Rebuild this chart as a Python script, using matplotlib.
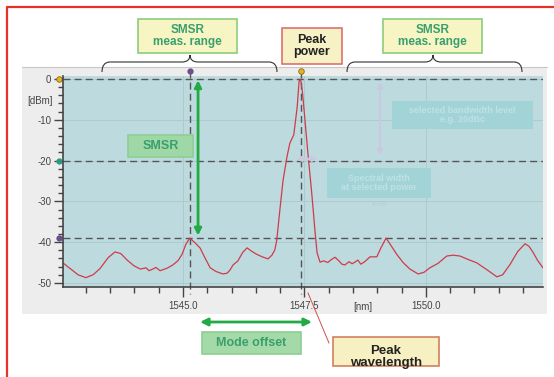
import matplotlib
matplotlib.use('Agg')
import matplotlib.pyplot as plt
import numpy as np
from matplotlib.patches import Rectangle, PathPatch, FancyArrowPatch
from matplotlib.path import Path
from matplotlib.ticker import MultipleLocator

plt.rcParams['font.family'] = ['Liberation Sans', 'DejaVu Sans']

# spectrum (wavelength nm, power dBm)
wavelength = [1542.53, 1542.68, 1542.84, 1543.00, 1543.15, 1543.29, 1543.46, 1543.60,
              1543.72, 1543.85, 1543.99, 1544.12, 1544.24, 1544.30, 1544.38, 1544.44,
              1544.53, 1544.67, 1544.79, 1544.90, 1544.98, 1545.06, 1545.14, 1545.25,
              1545.35, 1545.45, 1545.56, 1545.68, 1545.82, 1545.91, 1545.97, 1546.03,
              1546.13, 1546.23, 1546.32, 1546.42, 1546.52, 1546.63, 1546.75, 1546.83,
              1546.89, 1546.93, 1547.00, 1547.06, 1547.14, 1547.20, 1547.28, 1547.35,
              1547.39, 1547.42, 1547.46, 1547.51, 1547.57, 1547.65, 1547.72, 1547.76,
              1547.82, 1547.90, 1547.98, 1548.05, 1548.13, 1548.21, 1548.27, 1548.33,
              1548.42, 1548.48, 1548.54, 1548.60, 1548.66, 1548.74, 1548.85, 1548.99,
              1549.07, 1549.18, 1549.28, 1549.40, 1549.53, 1549.67, 1549.84, 1549.96,
              1550.08, 1550.25, 1550.43, 1550.56, 1550.70, 1550.86, 1551.05, 1551.26,
              1551.46, 1551.58, 1551.73, 1551.89, 1552.04, 1552.12, 1552.20, 1552.30,
              1552.41]
power = [-45.1, -46.5, -48.0, -48.7, -48.0, -46.5, -43.8, -42.4,
         -42.8, -44.4, -45.8, -46.6, -46.3, -47.0, -46.6, -46.2,
         -47.0, -46.4, -45.6, -44.5, -43.0, -40.5, -39.0, -40.2,
         -41.4, -43.8, -46.3, -47.2, -47.8, -47.6, -46.8, -45.6,
         -44.6, -42.5, -41.4, -42.3, -43.0, -43.6, -44.1, -43.2,
         -41.9, -39.5, -31.4, -24.8, -19.1, -15.7, -13.7, -6.9,
         -0.5, 0.0, -3.4, -10.0, -18.1, -28.0, -37.7, -42.6,
         -44.9, -44.6, -45.0, -44.3, -43.7, -44.6, -45.4, -45.6,
         -44.8, -45.3, -44.9, -44.4, -45.4, -44.8, -43.6, -43.6,
         -41.5, -39.0, -40.8, -43.0, -45.0, -46.6, -47.8, -47.4,
         -46.3, -45.2, -43.4, -43.2, -43.4, -44.2, -45.1, -46.8,
         -48.5, -48.0, -45.5, -42.3, -40.4, -41.0, -42.4, -44.5,
         -46.3]

peak_wl, peak_db = 1547.42, 0.0
side_wl, side_db = 1545.14, -38.9
level_db = -20.0
xticks = [1545.0, 1547.5, 1550.0]
yticks = [0, -10, -20, -30, -40, -50]

W, H = 554, 377
fig = plt.figure(figsize=(W / 100, H / 100), dpi=100, facecolor='white')

# background layer (pixel coordinates)
bg = fig.add_axes([0, 0, 1, 1], zorder=0)
bg.set_xlim(0, W)
bg.set_ylim(H, 0)
bg.axis('off')
bg.add_patch(Rectangle((22, 67), 525, 247, facecolor='#eeedee', edgecolor='none'))
bg.plot([22, 547], [67, 67], color='#c8c8c8', lw=0.8)
bg.plot([7, 7, W], [H, 7, 7], color='#e8302a', lw=1.6)

# spectrum axes
ax = fig.add_axes([63 / W, 1 - 287 / H, 480 / W, 211 / H], zorder=1)
ax.set_facecolor('#bddbde')
ax.set_xlim(1542.53, 1552.41)
ax.set_ylim(-51.0, 0.74)
for s in ['top', 'right']:
    ax.spines[s].set_visible(False)
for s in ['left', 'bottom']:
    ax.spines[s].set_color('#444444')
    ax.spines[s].set_linewidth(1.2)
ax.set_xticks(xticks)
ax.set_xticklabels(['%.1f' % v for v in xticks])
ax.xaxis.set_minor_locator(MultipleLocator(0.5))
ax.set_yticks(yticks)
ax.set_yticklabels(['%d' % v for v in yticks])
ax.yaxis.set_minor_locator(MultipleLocator(2))
ax.tick_params(axis='both', which='major', labelsize=7, labelcolor='#444444', color='#444444')
ax.tick_params(axis='x', which='major', length=7, width=1.0, pad=3)
ax.tick_params(axis='x', which='minor', length=4.3, width=1.0, color='#444444')
ax.tick_params(axis='y', which='major', length=6.5, width=1.0, pad=2)
ax.tick_params(axis='y', which='minor', length=3.6, width=1.0, color='#444444')
ax.grid(True, which='major', color='#aecacd', lw=0.7)
ax.set_axisbelow(True)

dash = dict(color='#555555', lw=1.0, ls=(0, (5, 3)))
for yv in [peak_db, level_db, side_db]:
    ax.axhline(yv, **dash)
for xv in [side_wl, peak_wl]:
    ax.plot([xv, xv], [2.0, -52.6], clip_on=False, **dash)

ax.plot(wavelength, power, color='#cf3b4b', lw=0.9)

# markers on the top and left edges
ax.plot([side_wl], [2.0], 'o', ms=3.5, color='#6b4f8c', clip_on=False)
ax.plot([peak_wl], [2.0], 'o', ms=4, color='#e6b422', mec='#8a6a10', mew=0.6, clip_on=False)
ax.plot([1542.45], [peak_db], 'o', ms=4, color='#e6b422', mec='#8a6a10', mew=0.6, clip_on=False)
ax.plot([1542.45], [level_db], 'o', ms=3.5, color='#2a9a80', clip_on=False)
ax.plot([1542.45], [side_db], 'o', ms=3.5, color='#6b4f8c', clip_on=False)

# SMSR arrow
ax.annotate('', xy=(1545.31, -0.3), xytext=(1545.31, side_db + 0.5),
            arrowprops=dict(arrowstyle='<|-|>', color='#22aa44', lw=2.0,
                            mutation_scale=10, shrinkA=0, shrinkB=0),
            annotation_clip=False)

# foreground layer (pixel coordinates)
fg = fig.add_axes([0, 0, 1, 1], zorder=3)
fg.set_xlim(0, W)
fg.set_ylim(H, 0)
fg.axis('off')
fg.patch.set_alpha(0)

fg.text(40, 101, '[dBm]', ha='center', va='center', fontsize=7, color='#444444')
fg.text(363, 307, '[nm]', ha='center', va='center', fontsize=7, color='#444444')


def brace(x0, x1, xc, yb=72, ym=62, yt=55):
    verts = [(x0, yb), (x0, ym), (x0 + 8, ym),
             (xc - 8, ym), (xc, ym), (xc, yt),
             (xc, ym), (xc + 8, ym),
             (x1 - 8, ym), (x1, ym), (x1, yb)]
    codes = [Path.MOVETO, Path.CURVE3, Path.CURVE3,
             Path.LINETO, Path.CURVE3, Path.CURVE3,
             Path.CURVE3, Path.CURVE3,
             Path.LINETO, Path.CURVE3, Path.CURVE3]
    fg.add_patch(PathPatch(Path(verts, codes), facecolor='none', edgecolor='#333333', lw=0.8))


brace(102, 277, 190)
brace(347, 522, 433)


def box(x0, y0, x1, y1, text, fc, ec, tc, fs=8.5, lw=1.2, alpha=1.0, ty=None, ls=1.1):
    fg.add_patch(Rectangle((x0, y0), x1 - x0, y1 - y0, facecolor=fc, edgecolor=ec,
                           lw=lw, alpha=alpha))
    yy = (y0 + y1) / 2 if ty is None else ty
    fg.text((x0 + x1) / 2, yy, text, ha='center', va='center', fontsize=fs,
            color=tc, fontweight='bold', linespacing=ls)


box(138, 19, 237, 53, 'SMSR\nmeas. range', '#f6f5c3', '#8ccc7c', '#3a9f6e')
box(383, 19, 482, 53, 'SMSR\nmeas. range', '#f6f5c3', '#8ccc7c', '#3a9f6e')
box(282, 28, 342, 64, 'Peak\npower', '#f6f2c6', '#e07070', '#222222', fs=9)
box(128, 135, 193, 157, 'SMSR', '#9fd8a6', '#8ccf92', '#3a9f6e', fs=9)
box(202, 332, 301, 354, 'Mode offset', '#a3daa8', '#8ccf92', '#3a9f6e', fs=9)
box(333, 337, 439, 366, 'Peak\nwavelength', '#f6f0c2', '#d08060', '#222222', fs=9.5,
    ty=357, ls=1.0)

# faded boxes inside the plot
box(392, 101, 533, 129, 'selected bandwidth level\ne.g. 20dBc', '#a2d4d7', 'none',
    '#bfe1e3', fs=6.5, lw=0)
box(327, 168, 431, 198, 'Spectral width\nat selected power', '#a2d4d7', 'none',
    '#bfe1e3', fs=6.5, lw=0)
fg.text(379, 204, 'level', ha='center', va='center', fontsize=5.5, color='#b0cfd8')

# faded arrows
fg.add_patch(FancyArrowPatch((380, 82), (380, 155), arrowstyle='<|-|>', color='#c9c8de',
                             lw=1.5, mutation_scale=8, shrinkA=0, shrinkB=0))
fg.add_patch(FancyArrowPatch((296, 159), (318, 159), arrowstyle='<|-|>', color='#c9c8de',
                             lw=2.0, mutation_scale=6, shrinkA=0, shrinkB=0))

# mode offset arrow
fg.add_patch(FancyArrowPatch((200, 322), (312, 322), arrowstyle='<|-|>', color='#22aa44',
                             lw=2.0, mutation_scale=11, shrinkA=0, shrinkB=0))

# leader line to peak wavelength
fg.plot([308, 329], [293, 343], color='#d05050', lw=0.7)

fig.savefig('out.png', dpi=100, facecolor='white')
